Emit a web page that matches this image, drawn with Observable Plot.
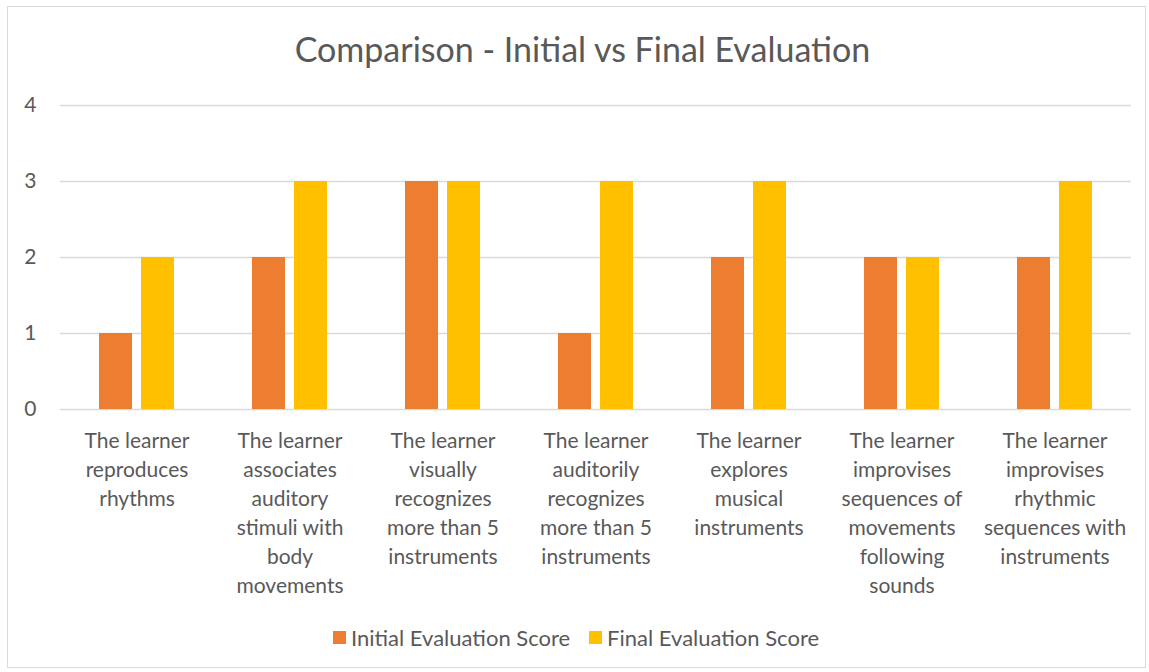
<!DOCTYPE html>
<html>
<head>
<meta charset="utf-8">
<script src="https://cdn.jsdelivr.net/npm/d3@7"></script>
<script src="https://cdn.jsdelivr.net/npm/@observablehq/plot@0.6"></script>
<style>
  body { margin: 0; background: #fff; font-family: Lato, "Open Sans", sans-serif; color: #595959; }
  #frame { position: absolute; left: 7px; top: 6px; width: 1139px; height: 662px; border: 1px solid #d9d9d9; box-sizing: border-box; }
  #title { position: absolute; left: 0; top: 28px; width: 1149px; text-align: center; font-size: 34px; color: #595959; padding-left: 16px; box-sizing: border-box; }
  #chart { position: absolute; left: 0; top: 80px; }
  #legend { position: absolute; left: 333px; top: 624px; display: flex; gap: 19px; font-size: 22px; }
  .item { display: flex; align-items: center; gap: 5px; }
  .sw { width: 13px; height: 13px; display: inline-block; }
</style>
</head>
<body>
<div id="frame"></div>
<div id="title">Comparison - Initial vs Final Evaluation</div>
<div id="chart"></div>
<div id="legend"></div>
<script>
const categories = [
  "The learner\nreproduces\nrhythms",
  "The learner\nassociates\nauditory\nstimuli with\nbody\nmovements",
  "The learner\nvisually\nrecognizes\nmore than 5\ninstruments",
  "The learner\nauditorily\nrecognizes\nmore than 5\ninstruments",
  "The learner\nexplores\nmusical\ninstruments",
  "The learner\nimprovises\nsequences of\nmovements\nfollowing\nsounds",
  "The learner\nimprovises\nrhythmic\nsequences with\ninstruments"
];
const seriesNames = ["Initial Evaluation Score", "Final Evaluation Score"];
const initialScores = [1, 2, 3, 1, 2, 2, 2];
const finalScores = [2, 3, 3, 3, 3, 2, 3];
const seriesColors = ["#ED7D31", "#FFC000"];
const yTicks = [0, 1, 2, 3, 4];

const rows = [];
categories.forEach((c, i) => {
  rows.push({category: c, series: seriesNames[0], value: initialScores[i]});
  rows.push({category: c, series: seriesNames[1], value: finalScores[i]});
});

const chart = Plot.plot({
  width: 1149,
  height: 530,
  marginLeft: 59,
  marginRight: 18,
  marginTop: 25,
  marginBottom: 201,
  style: {fontFamily: "Lato, 'Open Sans', sans-serif", color: "#595959", background: "transparent"},
  fx: {domain: categories, padding: 0},
  x: {domain: seriesNames, paddingInner: 0.209, paddingOuter: 0.884, axis: null},
  y: {domain: [0, 4]},
  color: {domain: seriesNames, range: seriesColors},
  marks: [
    Plot.gridY(yTicks, {stroke: "#d9d9d9", strokeOpacity: 1, strokeWidth: 1.3}),
    Plot.barY(rows, {fx: "category", x: "series", y: "value", fill: "series"}),
    Plot.axisY(yTicks, {tickSize: 0, tickPadding: 24, fontSize: 21, label: null, fill: "#595959", tickFormat: d3.format("d")}),
    Plot.axisFx({anchor: "bottom", tickSize: 0, tickPadding: 18, fontSize: 21, lineHeight: 1.38, label: null, fill: "#595959"})
  ]
});
document.getElementById("chart").appendChild(chart);

const legend = document.getElementById("legend");
seriesNames.forEach((s, i) => {
  const it = document.createElement("div");
  it.className = "item";
  const sw = document.createElement("span");
  sw.className = "sw";
  sw.style.background = seriesColors[i];
  const t = document.createElement("span");
  t.textContent = s;
  it.appendChild(sw); it.appendChild(t);
  legend.appendChild(it);
});
</script>
</body>
</html>
